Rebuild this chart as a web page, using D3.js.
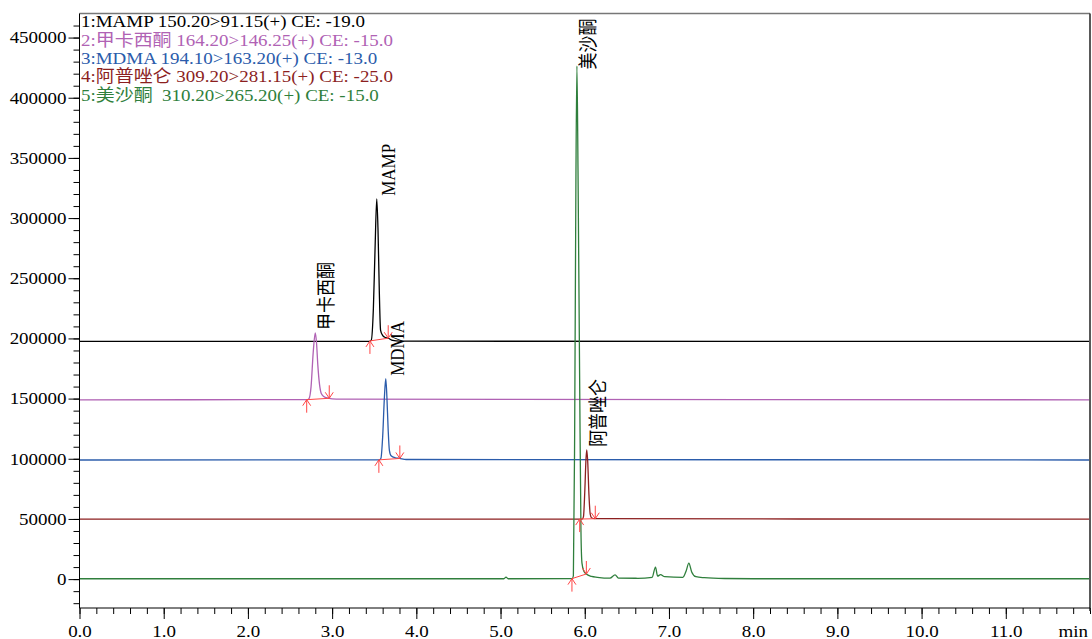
<!DOCTYPE html>
<html>
<head>
<meta charset="utf-8">
<script src="https://cdn.jsdelivr.net/npm/d3@7"></script>
<style>
  body { margin: 0; background: #fff; }
  svg { display: block; }
  text { font-family: "Liberation Serif", "Noto Sans CJK SC", serif; }
</style>
</head>
<body>
<svg id="chart" width="1092" height="639"></svg>
<script>
// Legend lines and peak names, one per trace (top to bottom)
const legendLines = [
    '1:MAMP 150.20>91.15(+) CE: -19.0',
    '2:甲卡西酮 164.20>146.25(+) CE: -15.0',
    '3:MDMA 194.10>163.20(+) CE: -13.0',
    '4:阿普唑仑 309.20>281.15(+) CE: -25.0',
    '5:美沙酮  310.20>265.20(+) CE: -15.0'
];
const peakNames = ['MAMP', '甲卡西酮', 'MDMA', '阿普唑仑', '美沙酮'];
const traceColors = ['#000000', '#b062b4', '#2b5cab', '#8c1f1f', '#2f7f3c'];

// Retention time (min) / intensity points
const mampTimes  = [0, 3.44, 3.465, 3.49, 3.51, 3.53, 3.545, 3.56, 3.575, 3.60, 3.62, 3.666, 3.72, 3.80, 12];
const mampValues = [197500, 197600, 198500, 225000, 275000, 316000, 290000, 240000, 207000, 202500, 201200, 200200, 198300, 197700, 197500];

const mcatTimes  = [0, 2.70, 2.725, 2.75, 2.775, 2.80, 2.815, 2.83, 2.85, 2.87, 2.90, 2.95, 3.05, 12];
const mcatValues = [149000, 149100, 150000, 160000, 188000, 204500, 196000, 178000, 162000, 154500, 151800, 150400, 149500, 149000];

const mdmaTimes  = [0, 3.56, 3.58, 3.60, 3.62, 3.637, 3.65, 3.665, 3.68, 3.70, 3.75, 3.80, 3.88, 12];
const mdmaValues = [99000, 99100, 100500, 118000, 150000, 166500, 152000, 125000, 107000, 102500, 100800, 100300, 99400, 99000];

const alpTimes  = [0, 5.97, 5.985, 6.00, 6.015, 6.024, 6.035, 6.05, 6.065, 6.08, 6.12, 12];
const alpValues = [49800, 49900, 52000, 72000, 100000, 107400, 98000, 70000, 54000, 51000, 50200, 49800];

const mtdTimes  = [0, 5.04, 5.065, 5.09, 5.85, 5.865, 5.88, 5.895, 5.907, 5.92, 5.94, 5.955, 5.967, 5.99,
                   6.015, 6.08, 6.15, 6.30, 6.36, 6.40, 6.63, 6.80, 6.84, 6.865, 6.90, 6.95, 7.165, 7.205,
                   7.236, 7.27, 7.32, 7.42, 7.66, 8.0, 12];
const mtdValues = [300, 300, 1700, 300, 400, 3000, 120000, 330000, 426300, 340000, 160000, 40000, 13300, 6500,
                   4400, 2200, 1500, 800, 3600, 800, 700, 1500, 10000, 2500, 3700, 2000, 1500, 7000,
                   13300, 6000, 2000, 1200, 500, 300, 300];

// Peak apex and integration start / end times (min)
const apexTimes  = [3.53, 2.80, 3.637, 6.024, 5.907];
const peakStarts = [3.449, 2.698, 3.555, 5.94, 5.848];
const peakEnds   = [3.666, 2.966, 3.804, 6.125, 6.019];

// Axis ticks
const xTickValues = [0, 1, 2, 3, 4, 5, 6, 7, 8, 9, 10, 11];
const xTickLabels = ['0.0', '1.0', '2.0', '3.0', '4.0', '5.0', '6.0', '7.0', '8.0', '9.0', '10.0', '11.0'];
const yTickValues = [0, 50000, 100000, 150000, 200000, 250000, 300000, 350000, 400000, 450000];

const traces = [
    { times: mampTimes, values: mampValues },
    { times: mcatTimes, values: mcatValues },
    { times: mdmaTimes, values: mdmaValues },
    { times: alpTimes,  values: alpValues },
    { times: mtdTimes,  values: mtdValues }
];

const S = 1.15; // text in the reference is a bit wider than it is tall
const plotLeft = 79.5, plotRight = 1090, plotTop = 13.5, plotBottom = 608;

const x = d3.scaleLinear().domain([0, 12]).range([plotLeft, plotRight]);
const y = d3.scaleLinear().domain([-24000, 470000]).range([plotBottom, plotTop]);

const svg = d3.select('#chart');

// linear lookup on a trace, used only to place the red integration marks
function valueAt(tr, t) {
    const i = d3.bisectRight(tr.times, t);
    const t0 = tr.times[i - 1], t1 = tr.times[i];
    const v0 = tr.values[i - 1], v1 = tr.values[i];
    return v0 + (v1 - v0) * (t - t0) / (t1 - t0);
}

function plainAxis(g) {
    g.attr('font-size', null).attr('font-family', null);
    g.select('.domain').remove();
    g.selectAll('line').attr('stroke', '#000');
}

// y axis: minor then major ticks
svg.append('g')
    .attr('transform', `translate(${plotLeft},0)`)
    .call(d3.axisLeft(y).tickValues(d3.range(-20000, 470000, 10000)).tickSize(6).tickFormat(''))
    .call(plainAxis);

const yAxis = svg.append('g')
    .attr('transform', `translate(${plotLeft},0)`)
    .call(d3.axisLeft(y).tickValues(yTickValues).tickSize(11).tickPadding(2).tickFormat(d => d))
    .call(plainAxis);
yAxis.selectAll('text')
    .attr('x', -13 / S)
    .attr('transform', `scale(${S},1)`)
    .attr('fill', '#000')
    .style('font-size', '16.5px');

// x axis
svg.append('g')
    .attr('transform', `translate(0,${plotBottom})`)
    .call(d3.axisBottom(x).tickValues(d3.range(0, 61).map(i => i / 5)).tickSize(6).tickFormat(''))
    .call(plainAxis);

const xAxis = svg.append('g')
    .attr('transform', `translate(0,${plotBottom})`)
    .call(d3.axisBottom(x).tickValues(xTickValues).tickSize(11).tickPadding(6)
        .tickFormat((d, i) => xTickLabels[i]))
    .call(plainAxis);
xAxis.selectAll('text')
    .attr('transform', `scale(${S},1)`)
    .attr('fill', '#000')
    .style('font-size', '16.5px');

svg.append('text')
    .attr('transform', `translate(1088,${plotBottom + 17}) scale(${S},1)`)
    .attr('dy', '0.71em')
    .attr('text-anchor', 'end')
    .style('font-size', '16.5px')
    .text('min');

// frame
svg.append('line').attr('x1', plotLeft).attr('x2', plotRight).attr('y1', plotTop).attr('y2', plotTop)
    .attr('stroke', '#777').attr('stroke-width', 1.6);
svg.append('line').attr('x1', plotRight).attr('x2', plotRight).attr('y1', plotTop).attr('y2', plotBottom + 3)
    .attr('stroke', '#222').attr('stroke-width', 1.5);
svg.append('line').attr('x1', plotLeft).attr('x2', plotLeft).attr('y1', plotTop).attr('y2', plotBottom)
    .attr('stroke', '#000');
svg.append('line').attr('x1', plotLeft).attr('x2', plotRight).attr('y1', plotBottom).attr('y2', plotBottom)
    .attr('stroke', '#000');

// plot area
svg.append('clipPath').attr('id', 'plotClip')
    .append('rect').attr('x', plotLeft + 0.5).attr('y', plotTop + 1)
    .attr('width', plotRight - plotLeft - 1.5).attr('height', plotBottom - plotTop - 1.5);
const plot = svg.append('g').attr('clip-path', 'url(#plotClip)');

const line = d3.line()
    .x(d => x(d[0]))
    .y(d => y(d[1]))
    .curve(d3.curveMonotoneX);

traces.forEach((tr, i) => {
    plot.append('path')
        .datum(d3.zip(tr.times, tr.values))
        .attr('fill', 'none')
        .attr('stroke', traceColors[i])
        .attr('stroke-width', 1.3)
        .attr('d', line);
});

// red integration marks: baseline segment, up arrow at start, down arrow at end
const marks = plot.append('g')
    .attr('fill', 'none')
    .attr('stroke', '#ff4545')
    .attr('stroke-width', 1);

traces.forEach((tr, i) => {
    const sx = x(peakStarts[i]), sy = y(valueAt(tr, peakStarts[i]));
    const ex = x(peakEnds[i]), ey = y(valueAt(tr, peakEnds[i]));
    marks.append('line').attr('x1', sx).attr('y1', sy).attr('x2', ex).attr('y2', ey);
    marks.append('path')
        .attr('d', `M${sx},${sy + 13}V${sy}M${sx - 4},${sy + 6}L${sx},${sy}L${sx + 4},${sy + 6}`);
    marks.append('path')
        .attr('d', `M${ex},${ey - 13}V${ey}M${ex - 4},${ey - 6}L${ex},${ey}L${ex + 4},${ey - 6}`);
});

// rotated peak labels next to each apex, kept inside the frame
traces.forEach((tr, i) => {
    const ax = x(apexTimes[i]) + 18;
    const label = svg.append('text')
        .attr('fill', '#000')
        .style('font-size', '17px')
        .text(peakNames[i]);
    const len = label.node().getComputedTextLength();
    const ay = Math.max(y(valueAt(tr, apexTimes[i])) - 3, plotTop + len + 5);
    label.attr('transform', `translate(${ax},${ay}) scale(${S},1) rotate(-90)`);
});

// legend in the top-left corner
legendLines.forEach((s, i) => {
    svg.append('text')
        .attr('transform', `translate(81,${27.3 + i * 18.3}) scale(${S},1)`)
        .attr('fill', traceColors[i])
        .style('font-size', '16.5px')
        .style('white-space', 'pre')
        .text(s);
});
</script>
</body>
</html>
